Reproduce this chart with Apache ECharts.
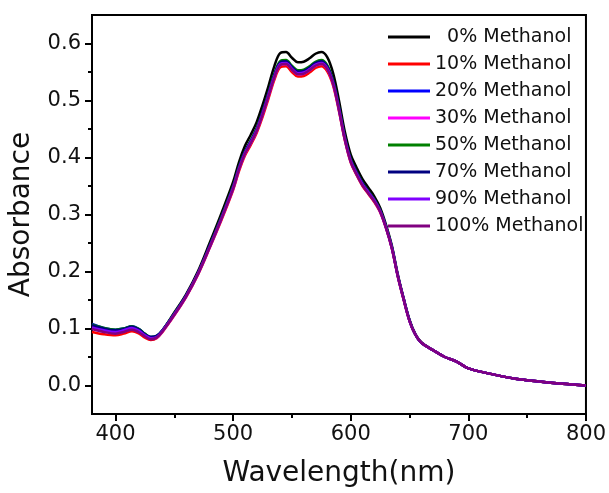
<!DOCTYPE html>
<html>
<head>
<meta charset="utf-8">
<script src="https://cdn.jsdelivr.net/npm/echarts@6/dist/echarts.min.js"></script>
<style>
html,body{margin:0;padding:0;background:#fff;}
#chart{width:609px;height:493px;}
</style>
</head>
<body>
<div id="chart"></div>
<script>
const wavelengths = [380,390,400,407,414,420,425,430,435,440,450,460,470,480,490,500,505,510,515,520,525,530,535,540,545,550,555,560,565,570,575,580,585,590,595,600,605,610,615,620,625,630,635,640,645,650,655,660,670,680,690,700,720,740,760,780,800];

const seriesNames = ['0% Methanol','10% Methanol','20% Methanol','30% Methanol','50% Methanol','70% Methanol','90% Methanol','100% Methanol'];

const abs0 = [.104,.098,.096,.099,.102,.097,.089,.084,.086,.097,.128,.160,.200,.250,.302,.357,.392,.420,.440,.462,.492,.525,.560,.583,.585,.575,.567,.568,.574,.582,.585,.576,.548,.500,.445,.405,.382,.362,.347,.332,.312,.282,.245,.195,.153,.115,.090,.076,.062,.050,.042,.030,.020,.012,.007,.003,.000];
const abs10 = [.094,.090,.088,.091,.095,.091,.084,.080,.083,.094,.123,.155,.194,.241,.290,.343,.376,.403,.422,.443,.471,.503,.536,.558,.560,.550,.542,.543,.549,.557,.560,.551,.526,.481,.430,.391,.369,.350,.336,.322,.304,.276,.240,.191,.150,.113,.089,.075,.062,.050,.042,.030,.020,.012,.007,.003,.000];
const abs20 = [.108,.101,.098,.100,.104,.099,.090,.085,.087,.097,.126,.157,.196,.244,.294,.348,.382,.409,.428,.449,.478,.510,.543,.565,.567,.557,.549,.550,.556,.564,.567,.558,.532,.486,.434,.395,.373,.354,.340,.326,.307,.278,.242,.193,.152,.114,.089,.075,.062,.050,.042,.030,.020,.012,.007,.003,.000];
const abs30 = [.100,.095,.092,.095,.099,.094,.087,.082,.084,.095,.124,.156,.195,.242,.292,.345,.379,.406,.425,.446,.475,.507,.540,.562,.564,.554,.546,.547,.553,.561,.564,.555,.529,.484,.432,.393,.371,.352,.338,.324,.305,.277,.241,.192,.151,.113,.089,.075,.062,.050,.042,.030,.020,.012,.007,.003,.000];
const abs50 = [.107,.101,.098,.100,.104,.099,.091,.085,.087,.097,.127,.158,.197,.245,.296,.350,.384,.411,.430,.452,.481,.513,.547,.569,.571,.561,.553,.554,.560,.568,.571,.562,.535,.489,.436,.397,.375,.356,.341,.327,.308,.279,.243,.193,.152,.114,.089,.075,.062,.050,.042,.030,.020,.012,.007,.003,.000];
const abs70 = [.106,.100,.097,.099,.103,.098,.090,.085,.087,.097,.126,.158,.197,.245,.295,.349,.383,.410,.429,.450,.480,.512,.545,.567,.569,.559,.551,.552,.558,.566,.569,.560,.534,.488,.435,.396,.374,.355,.340,.326,.307,.278,.242,.193,.152,.114,.089,.075,.062,.050,.042,.030,.020,.012,.007,.003,.000];
const abs90 = [.102,.097,.094,.097,.101,.096,.088,.083,.085,.096,.125,.157,.196,.243,.293,.347,.381,.408,.427,.448,.477,.509,.542,.564,.566,.556,.548,.549,.555,.563,.566,.557,.531,.485,.433,.394,.372,.353,.339,.325,.306,.277,.241,.192,.151,.113,.089,.075,.062,.050,.042,.030,.020,.012,.007,.003,.000];
const abs100 = [.099,.094,.091,.094,.098,.093,.086,.081,.084,.095,.124,.156,.195,.242,.292,.345,.379,.406,.425,.446,.475,.507,.540,.562,.564,.554,.546,.547,.553,.561,.564,.555,.529,.483,.431,.392,.370,.351,.337,.323,.305,.276,.240,.192,.151,.113,.089,.075,.062,.050,.042,.030,.020,.012,.007,.003,.000];

const seriesColors = ['#000000','#ff0000','#0000ff','#ff00ff','#008000','#000080','#8000ff','#800080'];

const xMinorTicks = [450,550,650,750];
const yMinorTicks = [0.05,0.15,0.25,0.35,0.45,0.55];

const allValues = [abs0,abs10,abs20,abs30,abs50,abs70,abs90,abs100];
const FONT = 'DejaVu Sans';
const X_MIN = 380, X_MAX = 800, Y_MIN = -0.05, Y_MAX = 0.65;

const chart = echarts.init(document.getElementById('chart'));
const series = seriesNames.map((name, i) => ({
  name: name,
  type: 'line',
  xAxisIndex: 0,
  yAxisIndex: 0,
  data: wavelengths.map((w, j) => [w, allValues[i][j]]),
  showSymbol: false,
  symbol: 'none',
  smooth: 0.35,
  lineStyle: { color: seriesColors[i], width: 2.5 },
  itemStyle: { color: seriesColors[i] },
  z: 2 + i
}));

function tickAxis(min, max, pos, values, len) {
  return {
    type: 'value', min: min, max: max, position: pos,
    axisLine: { show: false, onZero: false },
    axisTick: { show: true, inside: false, length: len, customValues: values, lineStyle: { color: '#000', width: 2 } },
    axisLabel: { show: false },
    splitLine: { show: false }
  };
}

chart.setOption({
  animation: false,
  backgroundColor: '#fff',
  textStyle: { fontFamily: FONT },
  grid: { left: 92, right: 22, top: 15, bottom: 76, show: true, borderColor: '#000', borderWidth: 2, backgroundColor: 'transparent' },
  legend: {
    orient: 'vertical',
    left: 388,
    top: 27,
    width: 220,
    padding: 0,
    icon: 'rect',
    itemWidth: 42,
    itemHeight: 3,
    itemGap: 7,
    data: seriesNames,
    formatter: function (n) { return n === '0% Methanol' ? '  ' + n : n; },
    textStyle: { fontFamily: FONT, fontSize: 19, color: '#111', lineHeight: 20, width: 165, overflow: 'none' }
  },
  xAxis: [{
    type: 'value', min: X_MIN, max: X_MAX, position: 'bottom', splitNumber: 4,
    name: 'Wavelength(nm)', nameLocation: 'middle', nameGap: 46,
    nameTextStyle: { fontFamily: FONT, fontSize: 28, color: '#111' },
    axisLine: { show: true, onZero: false, lineStyle: { color: '#000', width: 2 } },
    axisTick: { show: true, inside: false, length: 7, lineStyle: { color: '#000', width: 2 } },
    axisLabel: { show: true, showMinLabel: false, margin: 10, fontFamily: FONT, fontSize: 21, color: '#111',
      formatter: v => (Math.abs(v % 100) < 1e-6 ? String(v) : '') },
    splitLine: { show: false }
  },
    tickAxis(X_MIN, X_MAX, 'bottom', xMinorTicks, 4)
  ],
  yAxis: [{
    type: 'value', min: Y_MIN, max: Y_MAX, position: 'left', splitNumber: 7,
    name: 'Absorbance', nameLocation: 'middle', nameGap: 56,
    nameTextStyle: { fontFamily: FONT, fontSize: 28, color: '#111' },
    axisLine: { show: true, onZero: false, lineStyle: { color: '#000', width: 2 } },
    axisTick: { show: true, inside: false, length: 7, lineStyle: { color: '#000', width: 2 } },
    axisLabel: { show: true, showMinLabel: false, showMaxLabel: false, margin: 11, fontFamily: FONT, fontSize: 21, color: '#111',
      formatter: v => (Math.abs(v * 10 - Math.round(v * 10)) < 1e-6 ? v.toFixed(1) : '') },
    splitLine: { show: false }
  },
    tickAxis(Y_MIN, Y_MAX, 'left', yMinorTicks, 4)
  ],
  series: series
});
</script>
</body>
</html>
